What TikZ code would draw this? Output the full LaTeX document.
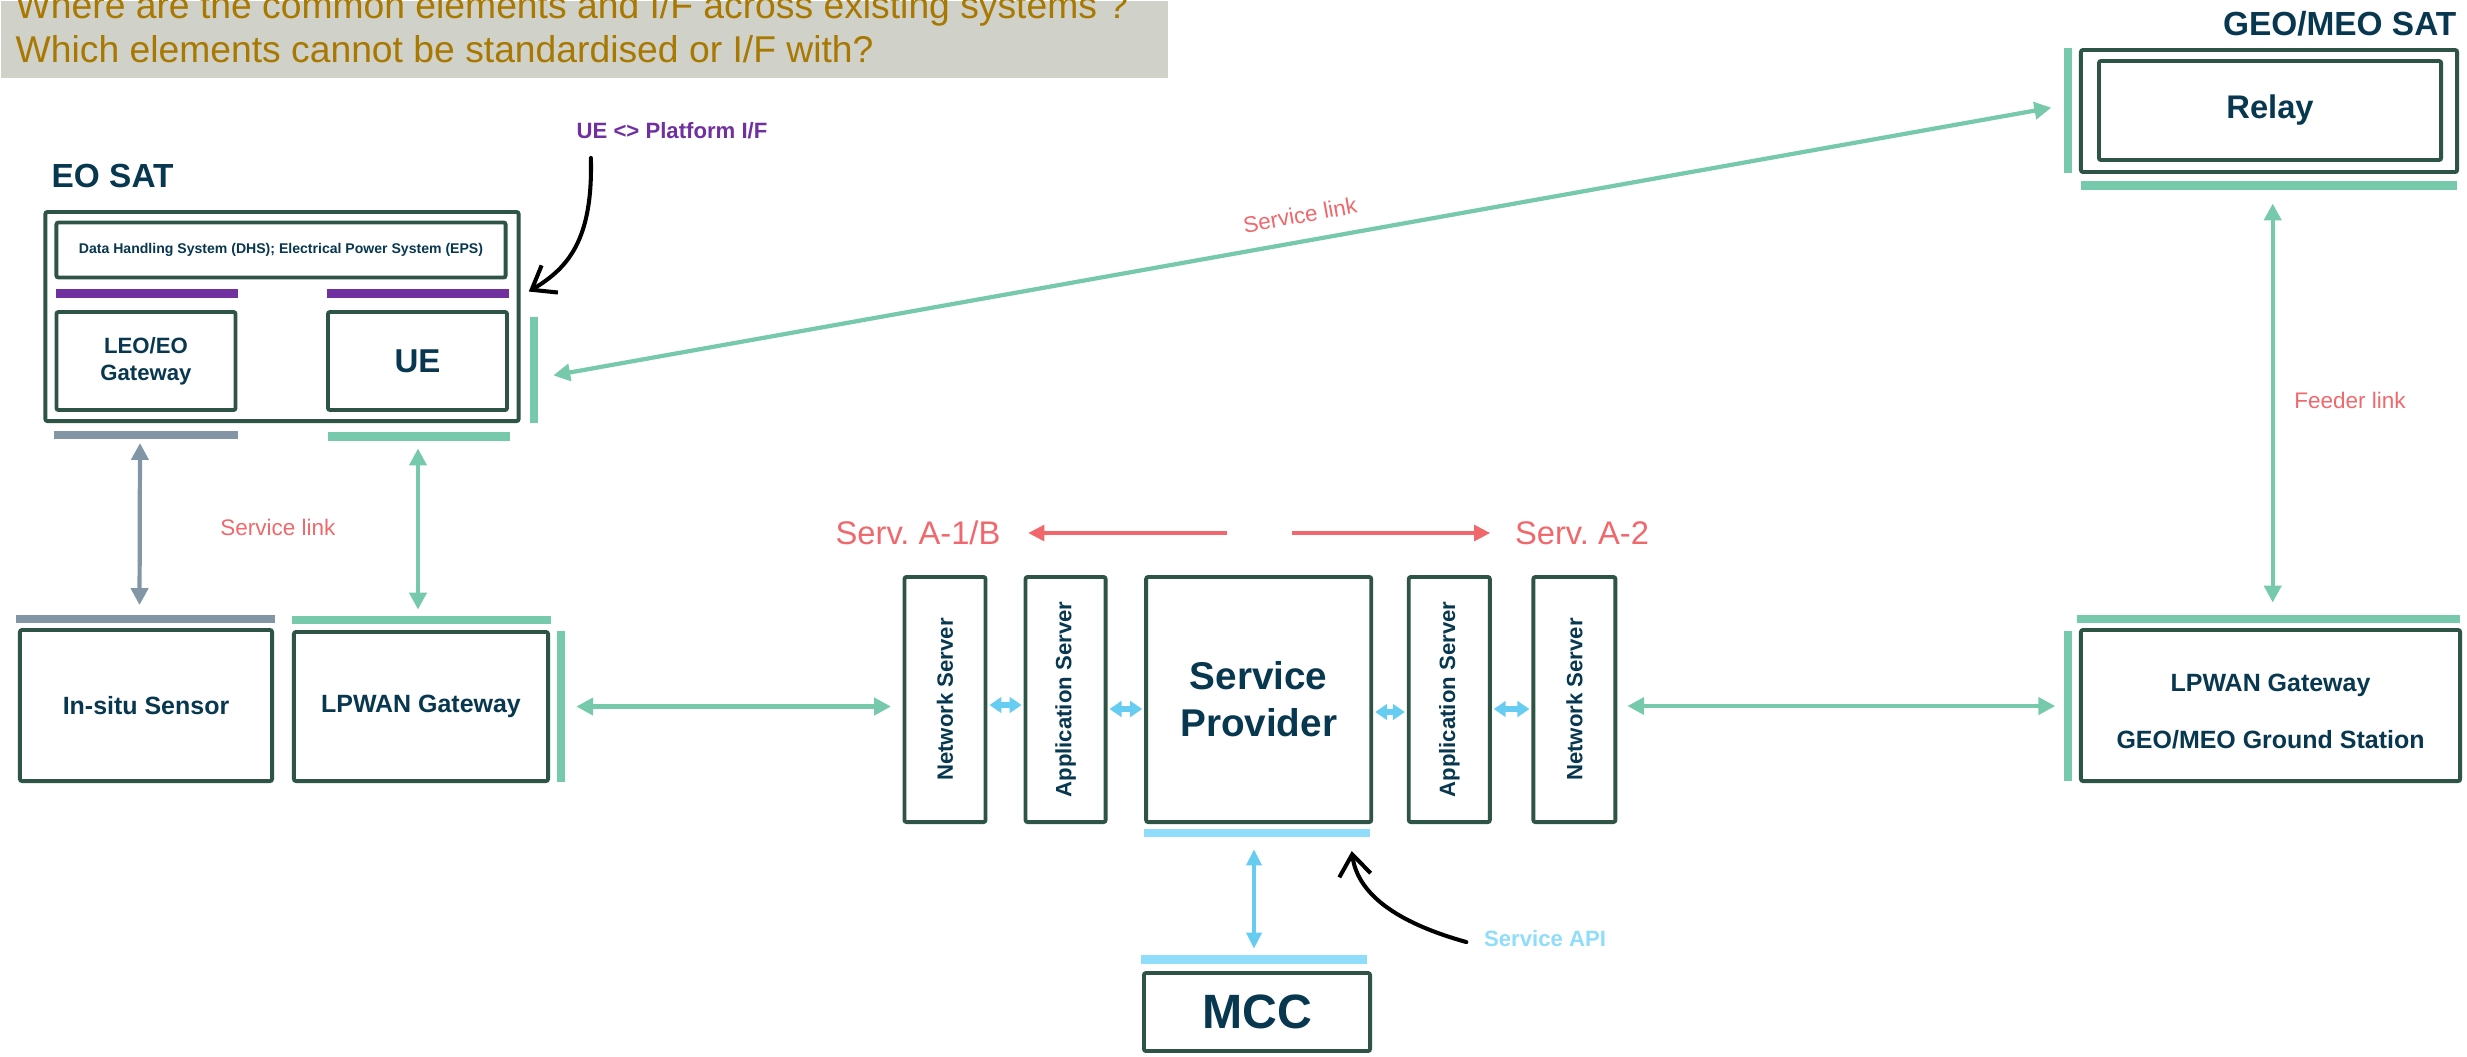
\documentclass[tikz,border=0pt]{standalone}
\usepackage{fontspec}
\setmainfont{Liberation Sans}
\usepackage{xcolor}
\usepackage{tikz}
\usetikzlibrary{arrows.meta,positioning,calc}
\definecolor{boxline}{RGB}{46,84,69}
\definecolor{navy}{RGB}{8,55,80}
\definecolor{linkgreen}{RGB}{119,201,172}
\definecolor{linkgrey}{RGB}{131,150,166}
\definecolor{ifpurple}{RGB}{112,48,160}
\definecolor{servred}{RGB}{240,104,108}
\definecolor{apiblue}{RGB}{102,204,242}
\definecolor{barblue}{RGB}{143,220,251}
\definecolor{titlebg}{RGB}{208,209,200}
\definecolor{titletext}{RGB}{168,120,0}
\newcommand{\fsz}[2]{\fontsize{#1}{#2}\selectfont}
\frenchspacing

\begin{document}
\begin{tikzpicture}[x=0.01cm, y=-0.01cm, node distance=1.2cm,
    block/.style={rectangle, draw=boxline, line width=1.1pt, fill=white, inner sep=0pt, text=navy, align=center, rounded corners=0.6pt},
    ifbar/.style={rectangle, fill=#1, inner sep=0pt, minimum height=0.085cm},
    vbar/.style={rectangle, fill=#1, inner sep=0pt, minimum width=0.08cm},
    lbl/.style={inner sep=0pt, text=servred, font=\fsz{6.4}{7.6}},
    srvtext/.style={rotate=90, inner sep=0pt, text=navy, font=\bfseries\fsz{6.3}{7.5}},
    link/.style={draw=linkgreen, line width=1.2pt, >={Triangle[length=4.8pt,width=4.8pt]}, <->},
    greylink/.style={link, draw=linkgrey},
    apilink/.style={draw=apiblue, line width=0.9pt, >={Triangle[length=4.5pt,width=4.3pt]}, <->},
    apistub/.style={draw=apiblue, line width=1.6pt, >={Triangle[length=3.4pt,width=4.4pt]}, <->, shorten <=0.02cm, shorten >=0.02cm},
    servarrow/.style={draw=servred, line width=1.3pt, -{Triangle[length=4.6pt,width=4.4pt]}},
    pointer/.style={draw=black, line width=1.15pt, line cap=round, -{Straight Barb[length=6pt,width=9pt]}}]
    \useasboundingbox (0,0) rectangle (2467,1056);

    \node[fill=titlebg, anchor=north west, inner sep=0pt, minimum width=11.67cm, minimum height=0.77cm] (qbox) at (0,0) {};
    \node[anchor=base west, inner sep=0pt, text=titletext, font=\fsz{10.6}{12.5}] (q1) at (15,18) {Where are the common elements and I/F across existing systems ?};
    \node[anchor=base west, inner sep=0pt, text=titletext, font=\fsz{10.6}{12.5}] (q2) at (15,62) {Which elements cannot be standardised or I/F with?};

    \node[anchor=west, inner sep=0pt, text=navy, font=\bfseries\fsz{9.5}{11}] (eolbl) at (51,176) {EO SAT};
    \node[block, minimum width=4.73cm, minimum height=2.09cm] (eosat) at (282,316.5) {};
    \node[block, minimum width=4.49cm, minimum height=0.55cm, font=\bfseries\fsz{4}{5}] (dhs) at (281,250) {Data Handling System (DHS); Electrical Power System (EPS)};
    \node[block, minimum width=1.79cm, minimum height=0.98cm, font=\bfseries\fsz{6.3}{7.7}] (leogw) at (146,361) {LEO/EO\\Gateway};
    \node[block, minimum width=1.79cm, minimum height=0.98cm, font=\bfseries\fsz{9.4}{11}] (ue) at (417.5,361) {UE};
    \node[ifbar=ifpurple, minimum width=1.81cm] (leoif) at (147,293.5) {};
    \node[ifbar=ifpurple, minimum width=1.82cm] (ueif) at (418,293.5) {};
    \node[ifbar=linkgrey, minimum width=1.83cm] (leobar) at (146,435) {};
    \node[ifbar=linkgreen, minimum width=1.82cm] (uebar) at (419,436.5) {};
    \node[vbar=linkgreen, minimum height=1.06cm] (uevbar) at (534,370) {};

    \node[anchor=east, inner sep=0pt, text=navy, font=\bfseries\fsz{9.5}{11}] (geolbl) at (2457,24) {GEO/MEO SAT};
    \node[block, minimum width=3.76cm, minimum height=1.22cm] (geosat) at (2269,111) {};
    \node[block, minimum width=3.42cm, minimum height=0.99cm, font=\bfseries\fsz{9.3}{11}] (relay) at (2270,110.5) {Relay};
    \node[vbar=linkgreen, minimum height=1.25cm] (relayvbar) at (2068,110.5) {};
    \node[ifbar=linkgreen, minimum width=3.76cm] (relaybar) at (2269,185.5) {};

    \node[block, minimum width=2.52cm, minimum height=1.51cm, font=\bfseries\fsz{7.1}{8.5}] (insitu) at (146,705.5) {In-situ Sensor};
    \node[block, minimum width=2.54cm, minimum height=1.49cm, font=\bfseries\fsz{7.1}{8.5}] (lpwl) at (421,706.5) {LPWAN Gateway};
    \node[ifbar=linkgrey, minimum width=2.59cm] (insitubar) at (145.5,619) {};
    \node[ifbar=linkgreen, minimum width=2.59cm] (lpwlbar) at (421.5,620) {};
    \node[vbar=linkgreen, minimum height=1.51cm] (lpwlvbar) at (561,706.5) {};

    \node[block, minimum width=3.79cm, minimum height=1.51cm] (lpwr) at (2270.5,705.5) {};
    \node[inner sep=0pt, align=center, text=navy, font=\bfseries\fsz{7.1}{16.2}] (lpwrtext) at ($(lpwr)+(0,6)$) {LPWAN Gateway\\GEO/MEO Ground Station};
    \node[ifbar=linkgreen, minimum width=3.83cm] (lpwrbar) at (2268.5,619) {};
    \node[vbar=linkgreen, minimum height=1.5cm] (lpwrvbar) at (2068,706) {};

    \node[block, minimum width=0.81cm, minimum height=2.45cm] (nsl) at (945,699.5) {};
    \node[block, minimum width=0.80cm, minimum height=2.45cm, right of=nsl, node distance=1.205cm] (asl) {};
    \node[block, minimum width=2.25cm, minimum height=2.45cm, right of=asl, node distance=1.93cm, font=\bfseries\fsz{11}{13.4}] (sp) {Service\\Provider};
    \node[block, minimum width=0.81cm, minimum height=2.45cm, right of=sp, node distance=1.905cm] (asr) {};
    \node[block, minimum width=0.82cm, minimum height=2.45cm, right of=asr, node distance=1.25cm] (nsr) {};
    \node[srvtext] (nsltext) at (nsl) {Network Server};
    \node[srvtext] (asltext) at (asl) {Application Server};
    \node[srvtext] (asrtext) at (asr) {Application Server};
    \node[srvtext] (nsrtext) at (nsr) {Network Server};
    \node[ifbar=barblue, minimum width=2.26cm] (spbar) at (1257,833) {};

    \node[block, minimum width=2.26cm, minimum height=0.78cm, font=\bfseries\fsz{13.7}{16}] (mcc) at (1257,1012) {MCC};
    \node[ifbar=barblue, minimum width=2.26cm] (mccbar) at (1254,959.5) {};

    \node[inner sep=0pt, text=ifpurple, font=\bfseries\fsz{6.3}{7.5}] (uelbl) at (672,131) {UE <> Platform I/F};
    \node[lbl] (svclbl) at (278,527) {Service link};
    \node[lbl, rotate=10.1] (svclbl2) at (1300,215) {Service link};
    \node[lbl] (feedlbl) at (2350,400) {Feeder link};
    \node[lbl, font=\fsz{9.3}{11}] (sa1b) at (918,533) {Serv. A-1/B};
    \node[lbl, font=\fsz{9.3}{11}] (sa2) at (1582,533) {Serv. A-2};
    \node[inner sep=0pt, text=barblue, font=\bfseries\fsz{6.3}{7.5}] (apilbl) at (1545,939) {Service API};

    \coordinate (srvl) at (1227,533);
    \coordinate (srvr) at (1292,533);
    \draw[servarrow, shorten >=0.27cm] (srvl) -- (sa1b.east);
    \draw[servarrow, shorten >=0.24cm] (srvr) -- (sa2.west);

    \draw[greylink, shorten <=0.03cm, shorten >=0.09cm] ($(leobar.south)+(-6,0)$) -- ($(insitubar.north)+(-6,0)$);
    \draw[link, shorten <=0.07cm, shorten >=0.055cm] ($(uebar.south)+(-1,0)$) -- ($(lpwlbar.north)+(-3.5,0)$);
    \draw[link, shorten <=0.105cm, shorten >=0.115cm] (lpwlvbar.east) -- (lpwlvbar.east -| nsl.west);
    \draw[link, shorten <=0.10cm, shorten >=0.08cm] (nsr.east |- lpwrvbar.west) -- (lpwrvbar.west);
    \draw[link, shorten <=0.148cm, shorten >=0.122cm] ($(uevbar.east)+(0,8)$) -- ($(relayvbar.west)+(0,-5)$);
    \draw[link, shorten <=0.13cm, shorten >=0.115cm] ($(relaybar.south)+(3.7,0)$) -- ($(lpwrbar.north)+(4.2,0)$);
    \draw[apilink, shorten <=0.115cm, shorten >=0.06cm] ($(spbar.south)+(-3,0)$) -- (mccbar.north);

    \draw[apistub] ($(nsl.east)+(0,5.5)$) -- ($(asl.west)+(0,5.5)$);
    \draw[apistub] ($(asl.east)+(0,9.5)$) -- ($(sp.west)+(0,9.5)$);
    \draw[apistub] ($(sp.east)+(0,12.5)$) -- ($(asr.west)+(0,12.5)$);
    \draw[apistub] ($(asr.east)+(0,9.5)$) -- ($(nsr.west)+(0,9.5)$);

    \draw[pointer] ($(uelbl.south west)+(15,18)$) .. controls (593,240) and (568,268) .. ($(ueif.east)+(19,-2)$);
    \draw[pointer] ($(apilbl.west)+(-17,3)$) .. controls (1405,925) and (1358,898) .. ($(spbar.east)+(-19,18)$);
\end{tikzpicture}
\end{document}
